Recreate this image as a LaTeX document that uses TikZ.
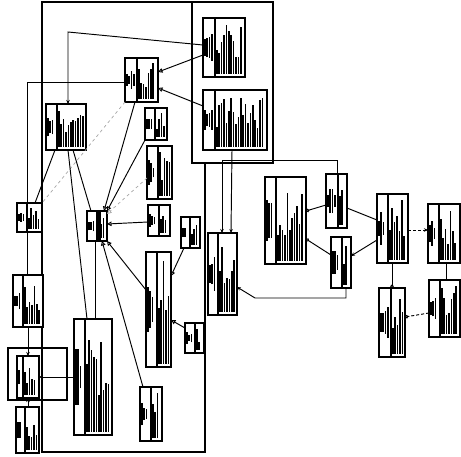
\documentclass[tikz,border=0pt]{standalone}
\usepackage{tikz}
\usetikzlibrary{arrows.meta,calc}
\tikzset{
  clsbox/.style  = {draw, line width=1.5pt, inner sep=0pt, outer sep=0pt, fill=white},
  clsdiv/.style  = {line width=1.1pt},
  txtbar/.style  = {line width=1.6pt},
  pkgframe/.style = {line width=1.2pt},
  link/.style    = {line width=0.95pt},
  inherit/.style = {link, -{Triangle[open,length=4.5pt,width=4.5pt]}},
  lolli/.style   = {link, -{Circle[open,length=3.5pt]}},
  navig/.style   = {link, -{Stealth[length=4pt,width=3.5pt]}},
  depend/.style  = {link, densely dashed},
  faint/.style   = {line width=0.7pt, dashed, gray!70}
}
% class box: name, x1, y1, x2, y2, divider
\newcommand{\umlclass}[6]{%
  \node[clsbox, minimum width={(#4-#2)*1pt}, minimum height={(#5-#3)*1pt}]
    (#1) at ({(#2+#4)/2},{(#3+#5)/2}) {};
  \draw[clsdiv] (#6,#3) -- (#6,#5);
  \pgfmathtruncatemacro{\colN}{(#4-#6-2)/2.4}
  \foreach \i in {1,...,\colN}{
    \pgfmathsetmacro{\barX}{#6+2.4*\i-0.6}
    \pgfmathsetmacro{\barH}{(#5-#3-6)*(0.3+0.65*rnd)}
    \draw[txtbar] (\barX,#5-3) -- ++(0,-\barH);
  }
  \pgfmathtruncatemacro{\colN}{(#6-#2-2)/2.4}
  \foreach \i in {1,...,\colN}{
    \pgfmathsetmacro{\barX}{#2+2.4*\i-0.6}
    \pgfmathsetmacro{\barH}{(#5-#3-8)*(0.2+0.35*rnd)}
    \draw[txtbar] (\barX,{(#3+#5)/2+\barH/2}) -- ++(0,-\barH);
  }
}

\begin{document}
\begin{tikzpicture}[x=1pt,y=-1pt]
  \useasboundingbox (0,0) rectangle (461,457);
  \pgfmathsetseed{4127}

  % package frames
  \draw[pkgframe] (42,2) -- (273,2) -- (273,163) -- (205,163) -- (205,452)
                  -- (42,452) -- cycle;
  \draw[pkgframe] (192,2) -- (192,163) -- (205,163);
  \draw[pkgframe] (8,348) rectangle (67,400);

  % classes
  \umlclass{b1}{203}{18}{245}{77}{215}
  \umlclass{b2}{203}{90}{267}{150}{215}
  \umlclass{b3}{125}{58}{158}{102}{137}
  \umlclass{b4}{46}{104}{86}{150}{57}
  \umlclass{b5}{145}{108}{167}{140}{155}
  \umlclass{b6}{147}{146}{172}{199}{158}
  \umlclass{b7}{148}{205}{170}{236}{159}
  \umlclass{b8}{87}{211}{107}{241}{97}
  \fill (97,211) rectangle (100.5,241);
  \umlclass{b9}{17}{203}{42}{232}{27}
  \umlclass{b10}{13}{275}{43}{327}{23}
  \umlclass{b11}{181}{217}{200}{248}{190}
  \umlclass{b12}{146}{252}{171}{367}{157}
  \umlclass{b13}{208}{233}{237}{315}{218}
  \umlclass{b14}{74}{319}{112}{435}{85}
  \umlclass{b15}{185}{323}{204}{353}{195}
  \umlclass{b16}{140}{387}{162}{441}{151}
  \umlclass{b17}{17}{356}{39}{398}{23}
  \umlclass{b18}{16}{407}{39}{453}{25}
  \umlclass{b19}{265}{177}{306}{264}{276}
  \umlclass{b20}{326}{174}{347}{228}{338}
  \umlclass{b21}{331}{237}{351}{288}{342}
  \umlclass{b22}{377}{194}{408}{263}{388}
  \umlclass{b23}{428}{204}{460}{263}{439}
  \umlclass{b24}{379}{288}{405}{357}{391}
  \umlclass{b25}{429}{280}{460}{337}{440}

  % relations
  \coordinate (k1) at (68,32);
  \draw[navig] (b1.west |- 0,45) -- (k1) -- (b4.north -| k1);
  \draw[inherit] (b1.west |- 0,55) -- (b3.east |- 0,72);
  \draw[inherit] (b2.west |- 0,106) -- (b3.east |- 0,88);
  \coordinate (k2) at (27,82);
  \draw[link] (b3.west |- k2) -- (k2) -- (b9.north -| k2);
  \draw[inherit] (b3.south -| 135,0) -- (b8.north -| 104,0);
  \draw[link] (b4.south -| 55,0) -- (b9.north -| 35,0);
  \draw[faint] (b3.south west) -- (b9.north east);
  \draw[link] (b4.south -| 68,0) -- (b14.north -| 87,0);
  \draw[link] (b4.south -| 73,0) -- (b8.north -| 91,0);
  \draw[inherit] (b5.south west) -- (b8.north east);
  \draw[faint, -{Triangle[open,length=4.5pt,width=4.5pt]}]
    (b6.west |- 0,178) -- (b8.east |- 0,214);
  \draw[inherit] (b7.west |- 0,222) -- (b8.east |- 0,224);
  \draw[inherit] (b12.west |- 0,290) -- (b8.south east);
  \draw[inherit] (b16.north -| 143,0) -- (b8.south -| 102,0);
  \draw[link] (b14.north -| 95,0) -- (b8.south -| 95,0);
  \draw[inherit] (b11.south -| 184,0) -- (b12.east |- 0,276);
  \draw[inherit] (b15.west |- 0,328) -- (b12.east |- 0,320);
  \draw[link] (b9.south -| 27,0) -- (b10.north -| 27,0);
  \draw[navig] (b10.south -| 28,0) -- (b17.north -| 28,0);
  \draw[navig] (b14.west |- 0,377) -- (b17.east |- 0,377);
  \draw[navig] (b18.north -| 28,0) -- (b17.south -| 28,0);
  \draw[navig] (b2.south -| 232,0) -- (b13.north -| 231,0);
  \coordinate (k3) at (337,160);
  \coordinate (k4) at (222,160);
  \draw[navig] (b20.north -| k3) -- (k3) -- (k4) -- (b13.north -| k4);
  \draw[lolli] (b20.west |- 0,205) -- (b19.east |- 0,211);
  \draw[lolli] (b21.west |- 0,255) -- (b19.east |- 0,239);
  \draw[link] (b20.east |- 0,208) -- (b22.west |- 0,220);
  \draw[navig] (b22.west |- 0,240) -- (b21.east |- 0,256);
  \coordinate (k5) at (346,298);
  \coordinate (k6) at (255,298);
  \draw[navig] (b21.south -| k5) -- (k5) -- (k6) -- (b13.east |- 0,287);
  \draw[depend, -{Stealth[length=4pt,width=3.5pt]}]
    (b22.east |- 0,230) -- (b23.west |- 0,230);
  \draw[lolli] (b22.south -| 392,0) -- (b24.north -| 392,0);
  \draw[link] (b23.south -| 446,0) -- (b25.north -| 446,0);
  \draw[depend, -{Circle[open,length=3.5pt]}]
    (b25.west |- 0,313) -- (b24.east |- 0,317);
\end{tikzpicture}
\end{document}
